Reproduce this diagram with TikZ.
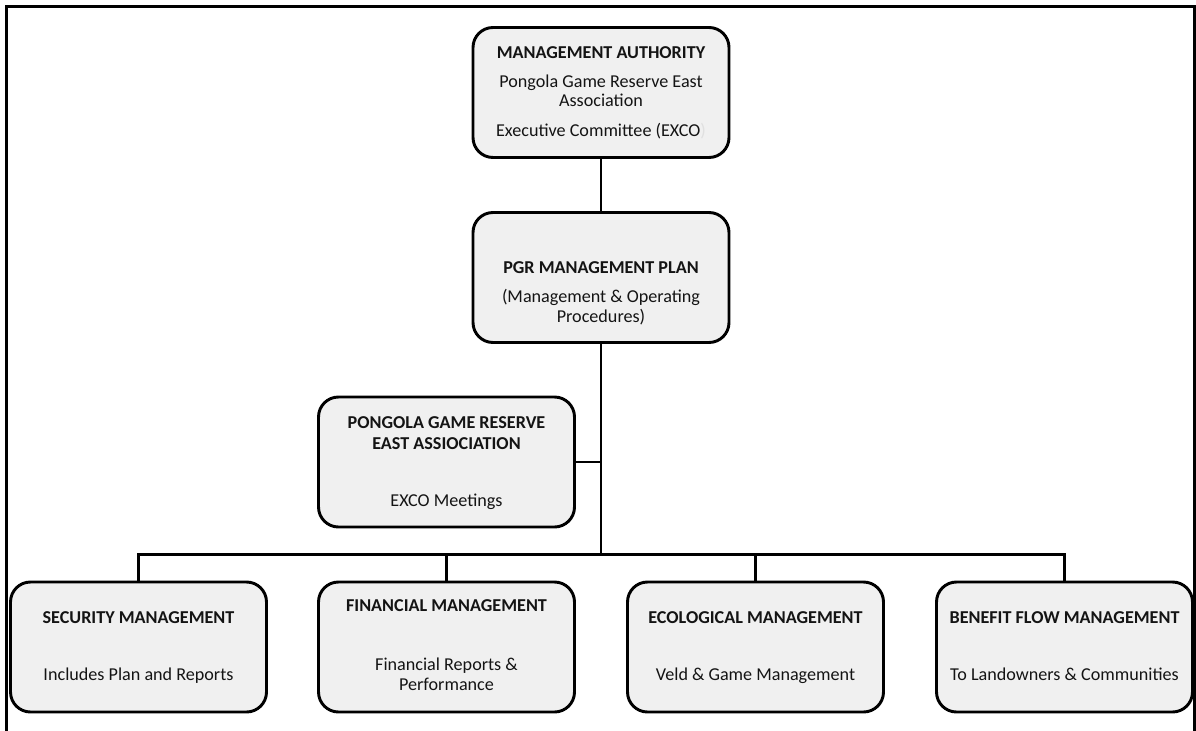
\documentclass[tikz,border=0pt]{standalone}
\usepackage{fontspec}
\setmainfont{Carlito}
\begin{document}
\begin{tikzpicture}[x=0.75pt,y=-0.75pt,
  box/.style={draw=black, line width=2.2pt, rounded corners=15pt, fill=black!6,
    minimum width=192pt, minimum height=97.5pt, inner sep=0pt},
  conn/.style={draw=black, line width=1.9pt},
  frame/.style={draw=black, line width=2.5pt},
  txt/.style={anchor=base, inner sep=0pt, text=black!92, font=\fontsize{13.6pt}{16pt}\selectfont},
  ttl/.style={txt, font=\fontsize{13.6pt}{16pt}\selectfont\bfseries}]
\useasboundingbox (0,0) rectangle (1196,731);
\fill[white] (0,0) rectangle (1196,731);
\draw[frame] (6.7,735) -- (6.7,6.7) -- (1194.3,6.7) -- (1194.3,735);

% boxes
\node[box] (top) at (601,92.5) {};
\node[box] (mid) at (601,277.5) {};
\node[box] (pong) at (446.5,462) {};
\node[box] (sec) at (138.5,647) {};
\node[box] (fin) at (446.5,647) {};
\node[box] (eco) at (755.5,647) {};
\node[box] (ben) at (1064.5,647) {};

% connectors
\coordinate (bus) at (601,554.5);
\draw[conn] (top.south) -- (mid.north);
\draw[conn] (mid.south) -- (bus);
\draw[conn] (pong.east) -- (pong.east -| mid.south);
\draw[conn] (sec.north) |- (bus);
\draw[conn] (ben.north) |- (bus);
\draw[conn] (fin.north) -- (fin.north |- bus);
\draw[conn] (eco.north) -- (eco.north |- bus);

% texts
\node[ttl] (t1) at (601,59) {MANAGEMENT AUTHORITY};
\node[txt] (t2) at (601,88) {Pongola Game Reserve East};
\node[txt] (t3) at (601,107) {Association};
\node[txt] (t4) at (601,137) {Executive Committee (EXCO\textcolor{black!12}{)}};

\node[ttl] (m1) at (601,273) {PGR MANAGEMENT PLAN};
\node[txt] (m2) at (601,302) {(Management \& Operating};
\node[txt] (m3) at (601,322) {Procedures)};

\node[ttl] (p1) at (446.5,428.5) {PONGOLA GAME RESERVE};
\node[ttl] (p2) at (446.5,449) {EAST ASSIOCIATION};
\node[txt] (p3) at (446.5,506.5) {EXCO Meetings};

\node[ttl] (s1) at (138.5,623.5) {SECURITY MANAGEMENT};
\node[txt] (s2) at (138.5,680.5) {Includes Plan and Reports};

\node[ttl] (f1) at (446.5,611) {FINANCIAL MANAGEMENT};
\node[txt] (f2) at (446.5,670) {Financial Reports \&};
\node[txt] (f3) at (446.5,690) {Performance};

\node[ttl] (e1) at (755.5,623.5) {ECOLOGICAL MANAGEMENT};
\node[txt] (e2) at (755.5,680.5) {Veld \& Game Management};

\node[ttl] (b1) at (1064.5,623.5) {BENEFIT FLOW MANAGEMENT};
\node[txt] (b2) at (1064.5,680.5) {To Landowners \& Communities};
\end{tikzpicture}
\end{document}
